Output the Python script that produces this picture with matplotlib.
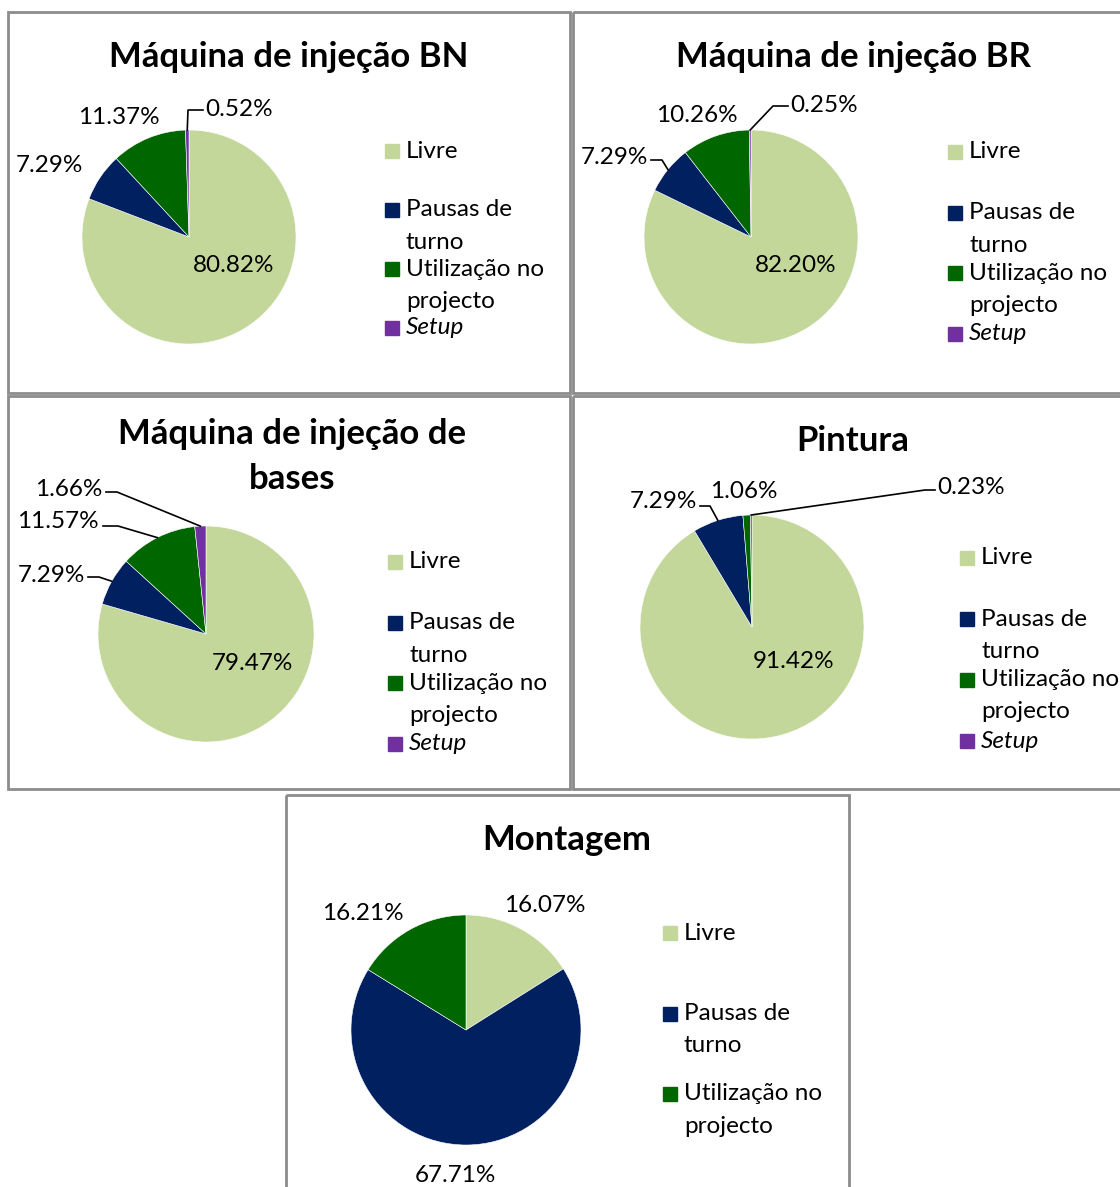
import numpy as np
import matplotlib
matplotlib.use("Agg")
import matplotlib.pyplot as plt
from matplotlib.patches import Rectangle

plt.rcParams['font.family'] = ['Lato', 'DejaVu Sans']

W, H = 1120, 1187

categories = ["Livre", "Pausas de turno", "Utilização no projecto", "Setup"]
legend_lines = [["Livre"], ["Pausas de", "turno"], ["Utilização no", "projecto"], ["Setup"]]
colors = ["#C4D79B", "#002060", "#006600", "#7030A0"]

bn = [80.82, 7.29, 11.37, 0.52]
br = [82.20, 7.29, 10.26, 0.25]
bases = [79.47, 7.29, 11.57, 1.66]
pintura = [91.42, 7.29, 1.06, 0.23]
montagem = [16.07, 67.71, 16.21]

titles = [["Máquina de injeção BN"], ["Máquina de injeção BR"],
          ["Máquina de injeção de", "bases"], ["Pintura"], ["Montagem"]]

# panel layout in pixels: box, title centre, pie centre + radius, legend column
panels = [
    dict(values=bn, box=(8, 12, 570, 393), title=(289, 57), pie=(189, 237, 107),
         leg=(385, 151, 59, 32.5),
         labels=[((234, 265), 'center', None),
                 ((49, 166), 'center', None),
                 ((119, 117), 'center', None),
                 ((205, 109), 'left', [(188, 110), (203, 110)])]),
    dict(values=br, box=(573, 12, 1135, 393), title=(853, 57), pie=(751, 237, 107),
         leg=(948, 152, 60.5, 32.5),
         labels=[((796, 265), 'center', None),
                 ((648, 158), 'right', [(662, 160), (651, 160)]),
                 ((697, 115), 'center', None),
                 ((790, 105), 'left', [(773, 106), (788, 106)])]),
    dict(values=bases, box=(8, 396, 570, 789), title=(292, 434), pie=(206, 634, 108),
         leg=(388, 562, 60.5, 33),
         labels=[((252, 663), 'center', None),
                 ((85, 575), 'right', [(99, 577), (88, 577)]),
                 ((99, 522), 'right', [(118, 526), (103, 526)]),
                 ((102, 490), 'right', [(117, 492), (106, 492)])]),
    dict(values=pintura, box=(573, 396, 1135, 789), title=(853, 441), pie=(752, 627, 112),
         leg=(960, 558, 61, 32),
         labels=[((794, 662), 'center', None),
                 ((697, 502), 'right', [(710, 506), (700, 506)]),
                 ((744, 492), 'center', None),
                 ((937, 488), 'left', [(925, 490), (935, 490)])]),
    dict(values=montagem, box=(286, 795, 849, 1200), title=(567, 840), pie=(466, 1030, 115),
         leg=(663, 933, 80.5, 32.5),
         labels=[((545, 905), 'center', None),
                 ((455, 1176), 'center', None),
                 ((363, 913), 'center', None)]),
]

fig = plt.figure(figsize=(W / 100, H / 100), dpi=100)
fig.patch.set_facecolor('white')

over = fig.add_axes([0, 0, 1, 1])
over.set_xlim(0, W)
over.set_ylim(H, 0)
over.axis('off')
over.set_zorder(5)
over.patch.set_visible(False)

for p, ttl in zip(panels, titles):
    vals = p['values']
    n = len(vals)
    x0, y0, x1, y1 = p['box']
    over.add_patch(Rectangle((x0, y0), x1 - x0, y1 - y0, fill=False,
                             edgecolor='#8c8c8c', lw=2, clip_on=False))

    # title
    tx, ty = p['title']
    for k, line in enumerate(ttl):
        over.text(tx, ty + k * 45, line, ha='center', va='center',
                  fontsize=25, fontweight='bold', color='black')

    # pie
    cx, cy, r = p['pie']
    ax = fig.add_axes([(cx - r) / W, 1 - (cy + r) / H, 2 * r / W, 2 * r / H])
    ax.pie(vals, colors=colors[:n], startangle=90, counterclock=False,
           wedgeprops=dict(edgecolor='white', linewidth=0.4))
    ax.set_xlim(-1, 1)
    ax.set_ylim(-1, 1)
    ax.set_aspect('equal')

    # data labels with leader lines from wedge midpoints
    cum = np.cumsum(vals) - np.array(vals) / 2
    for v, c, (pos, ha, elbow) in zip(vals, cum, p['labels']):
        ang = np.deg2rad(90 - 360 * c / sum(vals))
        if elbow is not None:
            sx = cx + r * np.cos(ang)
            sy = cy - r * np.sin(ang)
            xs = [sx] + [e[0] for e in elbow]
            ys = [sy] + [e[1] for e in elbow]
            over.plot(xs, ys, color='black', lw=1.2)
        over.text(pos[0], pos[1], f"{v:.2f}%", ha=ha, va='center',
                  fontsize=17.5, color='black')

    # legend
    lx, ly, step, lh = p['leg']
    for i in range(n):
        yy = ly + i * step
        over.add_patch(Rectangle((lx, yy - 7), 14, 14, color=colors[i]))
        for k, line in enumerate(legend_lines[i]):
            over.text(lx + 21, yy + k * lh, line, ha='left', va='center',
                      fontsize=17.5, color='black',
                      fontstyle='italic' if categories[i] == "Setup" else 'normal')

fig.savefig('out.png', dpi=100)
